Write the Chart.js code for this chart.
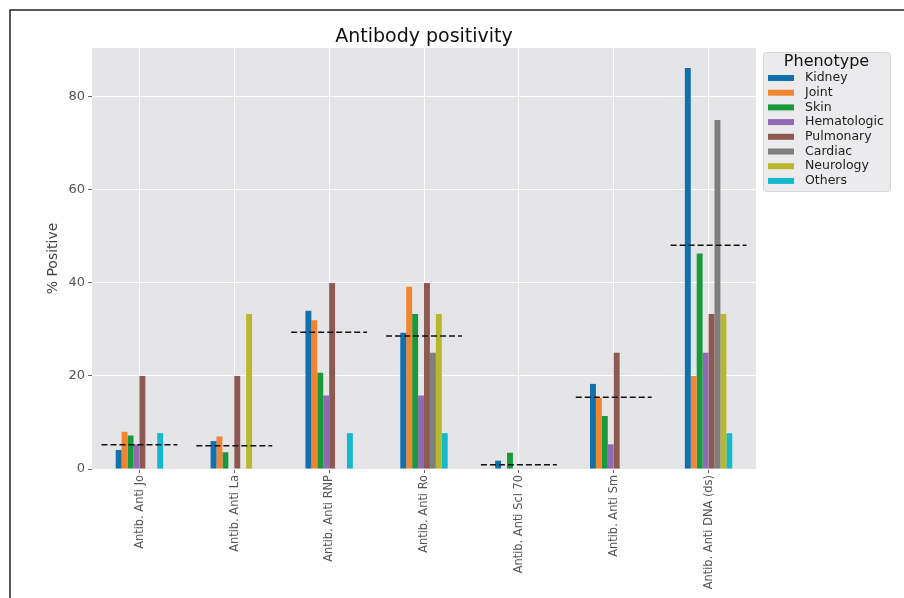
<!DOCTYPE html>
<html>
<head>
<meta charset="utf-8">
<script src="https://cdn.jsdelivr.net/npm/chart.js@4.4.1/dist/chart.umd.min.js"></script>
<style>
  html, body { margin: 0; padding: 0; background: #fff; }
  canvas { display: block; }
</style>
</head>
<body>
<canvas id="chart" width="904" height="598"></canvas>
<script>
// Data (% positive per phenotype)
const categories = ['Antib. Anti Jo', 'Antib. Anti La', 'Antib. Anti RNP', 'Antib. Anti Ro',
                    'Antib. Anti Scl 70', 'Antib. Anti Sm', 'Antib. Anti DNA (ds)'];
const kidney      = [4.1, 6.0, 34.0, 29.3, 1.8, 18.3, 86.2];
const joint       = [8.0, 7.0, 32.0, 39.2, 0, 15.3, 20.0];
const skin        = [7.2, 3.6, 20.7, 33.3, 3.5, 11.4, 46.3];
const hematologic = [5.3, 0, 15.8, 15.8, 0, 5.3, 25.0];
const pulmonary   = [20.0, 20.0, 40.0, 40.0, 0, 25.0, 33.3];
const cardiac     = [0, 0, 0, 25.0, 0, 0, 75.0];
const neurology   = [0, 33.3, 0, 33.3, 0, 0, 33.3];
const others      = [7.7, 0, 7.7, 7.7, 0, 0, 7.7];
// overall positivity (dashed lines)
const overall     = [5.2, 5.0, 29.4, 28.6, 0.9, 15.4, 48.1];
const yTicks      = [0, 20, 40, 60, 80];

const series = [
    { label: 'Kidney', data: kidney, color: '#1370ad' },
    { label: 'Joint', data: joint, color: '#f28530' },
    { label: 'Skin', data: skin, color: '#1a9a3c' },
    { label: 'Hematologic', data: hematologic, color: '#8e6bb2' },
    { label: 'Pulmonary', data: pulmonary, color: '#8c5a50' },
    { label: 'Cardiac', data: cardiac, color: '#7f7f7f' },
    { label: 'Neurology', data: neurology, color: '#b8b82c' },
    { label: 'Others', data: others, color: '#16b8cc' }
];

const FONT = "'DejaVu Sans', sans-serif";

// background, dashed means, legend box, title, frame
const decor = {
    id: 'decor',
    beforeDraw(chart) {
        const { ctx, chartArea: a } = chart;
        ctx.save();
        ctx.fillStyle = '#fff';
        ctx.fillRect(0, 0, chart.width, chart.height);
        ctx.fillStyle = '#e5e5e7';
        ctx.fillRect(a.left, a.top, a.right - a.left, a.bottom - a.top);
        ctx.restore();
    },
    afterDatasetsDraw(chart) {
        const { ctx } = chart;
        const x = chart.scales.x, y = chart.scales.y;
        const half = (x.getPixelForValue(1) - x.getPixelForValue(0)) * 0.4;
        ctx.save();
        ctx.strokeStyle = '#111';
        ctx.lineWidth = 1.5;
        ctx.setLineDash([6, 3]);
        overall.forEach((v, i) => {
            const cx = x.getPixelForValue(i);
            const py = y.getPixelForValue(v);
            ctx.beginPath();
            ctx.moveTo(cx - half, py);
            ctx.lineTo(cx + half, py);
            ctx.stroke();
        });
        ctx.restore();
    },
    afterDraw(chart) {
        const { ctx, chartArea: a } = chart;
        ctx.save();
        // title
        ctx.fillStyle = '#111';
        ctx.font = '19px ' + FONT;
        ctx.textAlign = 'center';
        ctx.textBaseline = 'middle';
        ctx.fillText('Antibody positivity', (a.left + a.right) / 2, 37);

        // legend
        const lx = a.right + 7, ly = 52, lw = 127, lh = 139;
        ctx.fillStyle = 'rgba(233,233,235,0.9)';
        ctx.strokeStyle = '#d6d6d6';
        ctx.lineWidth = 1;
        ctx.beginPath();
        ctx.roundRect(lx + 0.5, ly + 0.5, lw, lh, 3);
        ctx.fill();
        ctx.stroke();
        ctx.fillStyle = '#111';
        ctx.font = '16px ' + FONT;
        ctx.fillText('Phenotype', lx + lw / 2, ly + 10);
        ctx.font = '12.5px ' + FONT;
        ctx.textAlign = 'left';
        series.forEach((s, i) => {
            const ry = ly + 26 + i * 14.7;
            ctx.fillStyle = s.color;
            ctx.fillRect(lx + 5, ry - 3, 26, 6);
            ctx.fillStyle = '#222';
            ctx.fillText(s.label, lx + 42, ry);
        });

        // figure frame
        ctx.strokeStyle = '#222';
        ctx.lineWidth = 1.5;
        ctx.strokeRect(10, 10, chart.width + 20, chart.height + 20);
        ctx.restore();
    }
};

new Chart(document.getElementById('chart'), {
    type: 'bar',
    data: {
        labels: categories,
        datasets: series.map(s => ({
            label: s.label,
            data: s.data,
            backgroundColor: s.color,
            borderWidth: 0,
            categoryPercentage: 0.5,
            barPercentage: 1.0
        }))
    },
    options: {
        responsive: false,
        animation: false,
        devicePixelRatio: 1,
        layout: { padding: { top: 48, right: 148, left: 0, bottom: 0 } },
        plugins: {
            legend: { display: false },
            title: { display: false },
            tooltip: { enabled: false }
        },
        scales: {
            x: {
                offset: true,
                grid: { color: '#fff', offset: false, lineWidth: 1, tickColor: '#666', tickLength: 4 },
                border: { display: false },
                ticks: {
                    minRotation: 90,
                    maxRotation: 90,
                    padding: 2,
                    color: '#555',
                    font: { family: "'DejaVu Sans Condensed', 'Liberation Sans Narrow', 'DejaVu Sans', sans-serif", size: 12.7 }
                },
                afterFit(s) { s.height = 129; }
            },
            y: {
                min: 0,
                max: 90.5,
                grid: { color: '#fff', lineWidth: 1, tickColor: '#666', tickLength: 4 },
                border: { display: false },
                ticks: {
                    stepSize: 20,
                    padding: 3,
                    color: '#555',
                    font: { family: FONT, size: 13 }
                },
                afterBuildTicks(s) {
                    s.ticks = yTicks.map(v => ({ value: v }));
                },
                title: {
                    display: true,
                    text: '% Positive',
                    color: '#444',
                    font: { family: FONT, size: 14 },
                    padding: { top: 45, bottom: 0 }
                },
                afterFit(s) { s.width = 92; }
            }
        }
    },
    plugins: [decor]
});
</script>
</body>
</html>
